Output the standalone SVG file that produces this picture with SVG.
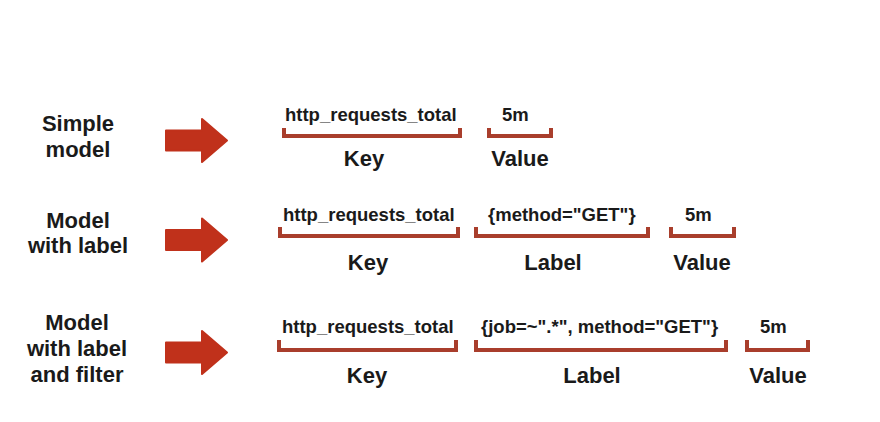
<svg xmlns="http://www.w3.org/2000/svg" width="880" height="422" viewBox="0 0 880 422">
<style>
.t{font-family:"Liberation Sans",Arial,sans-serif;font-weight:bold;fill:#1a1a1a}
.side{font-size:22px;text-anchor:middle}
.top{font-size:18.5px}
.cap{font-size:22px;text-anchor:middle}
.br{fill:none;stroke:#a93e2c;stroke-width:4;stroke-linejoin:miter}
.ar{fill:#c0311b;stroke:#c0311b;stroke-width:2;stroke-linejoin:round}
</style>
<defs>
<path id="arrow" class="ar" d="M1,-10 H37 V-21.5 L62,0 L37,21.5 V10 H1 Z"/>
</defs>
<rect width="880" height="422" fill="#ffffff"/>
<g id="row1-title"><text class="t side" x="78" y="131">Simple</text><text class="t side" x="78" y="157">model</text></g>
<g id="row2-title"><text class="t side" x="78" y="228">Model</text><text class="t side" x="78" y="253">with label</text></g>
<g id="row3-title"><text class="t side" x="77" y="330">Model</text><text class="t side" x="77" y="356">with label</text><text class="t side" x="77" y="382">and filter</text></g>
<g id="connectors">
<use href="#arrow" x="165" y="140.5"/>
<use href="#arrow" x="165" y="240"/>
<use href="#arrow" x="165" y="352.5"/>
</g>
<g id="row1-key"><text class="t top" x="285" y="121">http_requests_total</text><path class="br" d="M284,128 V136 H460 V128"/><text class="t cap" x="364" y="166">Key</text></g>
<g id="row1-value"><text class="t top" x="502" y="121">5m</text><path class="br" d="M489,128 V136 H551 V128"/><text class="t cap" x="520" y="166">Value</text></g>
<g id="row2-key"><text class="t top" x="283" y="221">http_requests_total</text><path class="br" d="M280,227 V236 H458 V227"/><text class="t cap" x="368" y="270">Key</text></g>
<g id="row2-label"><text class="t top" x="488" y="221">{method="GET"}</text><path class="br" d="M476,227 V236 H648 V227"/><text class="t cap" x="553" y="270">Label</text></g>
<g id="row2-value"><text class="t top" x="685" y="221">5m</text><path class="br" d="M671,227 V236 H734 V227"/><text class="t cap" x="702" y="270">Value</text></g>
<g id="row3-key"><text class="t top" x="282" y="333">http_requests_total</text><path class="br" d="M279,340 V350 H456 V340"/><text class="t cap" x="367" y="383">Key</text></g>
<g id="row3-label"><text class="t top" x="481" y="333">{job=~".*", method="GET"}</text><path class="br" d="M476,340 V350 H726 V340"/><text class="t cap" x="592" y="383">Label</text></g>
<g id="row3-value"><text class="t top" x="760" y="333">5m</text><path class="br" d="M747,340 V350 H808 V340"/><text class="t cap" x="778" y="383">Value</text></g>
</svg>
